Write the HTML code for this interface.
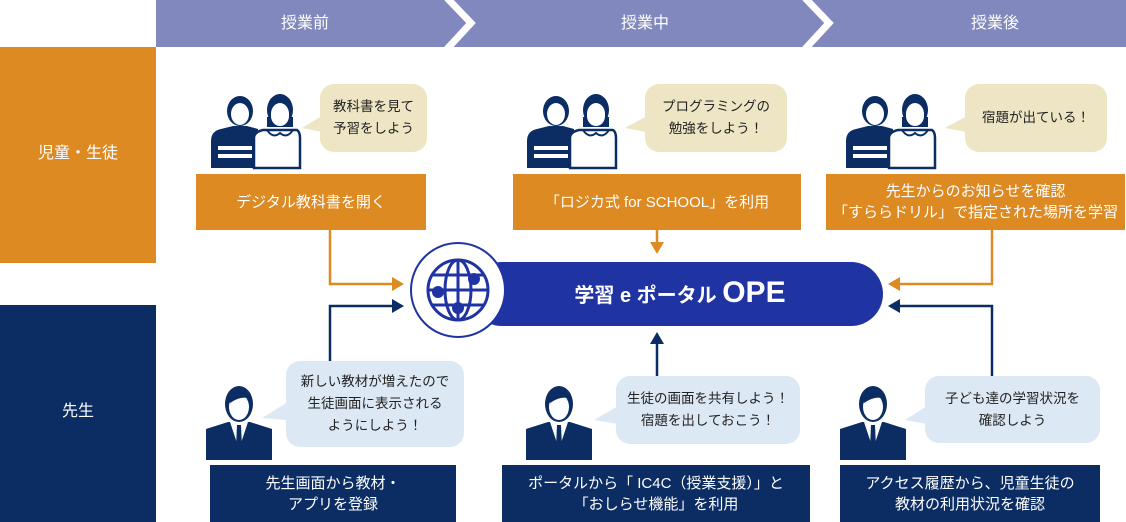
<!DOCTYPE html>
<html><head><meta charset="utf-8"><style>
*{margin:0;padding:0;box-sizing:border-box}
body{width:1126px;height:522px;overflow:hidden;background:#fff;font-family:"Liberation Sans","Noto Sans CJK JP",sans-serif;position:relative}
.a{position:absolute;display:flex;align-items:center;justify-content:center;text-align:center;line-height:21px}
.o{background:#de8a23;color:#fff;font-size:15px}
.n{background:#0b2d63;color:#fff;font-size:15px}
.bb{background:#ede5c4;color:#222;font-size:13.5px;border-radius:14px;line-height:22px}
.bl{background:#dde8f5;color:#222;font-size:13.5px;border-radius:14px;line-height:22px}
.h{color:#fff;font-size:16px}
</style></head><body>
<svg width="1126" height="522" style="position:absolute;left:0;top:0">
<defs>
<g id="st">
<path d="M0 75 V48 Q0 38 10 36 L22 33 L36 33 L47 36 V75Z" fill="#0b2d63"/>
<rect x="7" y="53" width="34" height="4" fill="#fff"/>
<rect x="7" y="61" width="34" height="4" fill="#fff"/>
<ellipse cx="29" cy="18" rx="13" ry="15" fill="#0b2d63"/>
<ellipse cx="29" cy="21" rx="9" ry="11" fill="#fff"/>
<path d="M20 14 Q29 4 38 14 L36 10 Q29 8 22 12Z" fill="#0b2d63"/>
<ellipse cx="69" cy="17" rx="13" ry="16" fill="#0b2d63"/>
<ellipse cx="69" cy="21" rx="9" ry="11" fill="#fff"/>
<rect x="56" y="24" width="26" height="10" fill="#0b2d63"/>
<ellipse cx="69" cy="23" rx="9" ry="10" fill="#fff"/>
<path d="M43 75 V45 Q43 39 52 37 L86 37 Q89 39 89 45 V75Z" fill="#fff" stroke="#0b2d63" stroke-width="2.5"/>
<path d="M56 37 Q62 46 69 40 Q76 46 82 37" fill="none" stroke="#0b2d63" stroke-width="2"/>
</g>
<g id="tc">
<path d="M0 75 V44 L22 37 L44 37 L66 44 V75Z" fill="#0b2d63"/>
<path d="M24 37 L33 64 L42 37Z" fill="#fff"/>
<path d="M31 40 L35 40 L36 62 L33 66 L30 62Z" fill="#0b2d63"/>
<ellipse cx="33" cy="19" rx="14" ry="18" fill="#0b2d63"/>
<ellipse cx="33" cy="22" rx="10" ry="13" fill="#fff"/>
<path d="M22 14 Q33 2 44 14 Q36 10 24 18Z" fill="#0b2d63"/>
</g>
</defs>
<rect x="156" y="0" width="970" height="47" fill="#8088bd"/>
<polyline points="447,-2 471,23 447,49" fill="none" stroke="#fff" stroke-width="7"/>
<polyline points="805,-2 829,23 805,49" fill="none" stroke="#fff" stroke-width="7"/>
<rect x="0" y="47" width="156" height="216" fill="#de8a23"/>
<rect x="0" y="305" width="156" height="217" fill="#0b2d63"/>
<!-- bubble tails -->
<path d="M302 128 L322 116 L322 132Z" fill="#ede5c4"/>
<path d="M625 128 L647 116 L647 132Z" fill="#ede5c4"/>
<path d="M945 128 L967 116 L967 132Z" fill="#ede5c4"/>
<path d="M262 418 L288 402 L288 420Z" fill="#dde8f5"/>
<path d="M594 420 L618 406 L618 424Z" fill="#dde8f5"/>
<path d="M905 420 L927 406 L927 424Z" fill="#dde8f5"/>
<use href="#st" x="211" y="93"/>
<use href="#st" x="527" y="93"/>
<use href="#st" x="846" y="93"/>
<use href="#tc" x="206" y="385"/>
<use href="#tc" x="526" y="385"/>
<use href="#tc" x="840" y="385"/>
<!-- arrows -->
<g fill="none" stroke="#de8a23" stroke-width="2.5">
<polyline points="330,230 330,284 394,284"/>
<line x1="657" y1="230" x2="657" y2="244"/>
<polyline points="992,230 992,284 898,284"/>
</g>
<g fill="#de8a23"><path d="M404 284 L392 277 L392 291Z"/><path d="M657 254 L650 242 L664 242Z"/><path d="M888 284 L900 277 L900 291Z"/></g>
<g fill="none" stroke="#0b2d63" stroke-width="2.5">
<polyline points="330,361 330,306 394,306"/>
<line x1="657" y1="376" x2="657" y2="343"/>
<polyline points="992,376 992,306 898,306"/>
</g>
<g fill="#0b2d63"><path d="M404 306 L392 299 L392 313Z"/><path d="M657 332 L650 344 L664 344Z"/><path d="M888 306 L900 299 L900 313Z"/></g>
<!-- portal -->
<rect x="470" y="262" width="413" height="64" rx="32" fill="#2033a3"/>
<circle cx="458" cy="290" r="47" fill="#fff" stroke="#2033a3" stroke-width="2"/>
<g fill="none" stroke="#2033a3" stroke-width="3">
<circle cx="458" cy="290" r="30"/>
<ellipse cx="458" cy="290" rx="13" ry="30"/>
<line x1="458" y1="260" x2="458" y2="320"/>
<line x1="428" y1="290" x2="488" y2="290"/>
<line x1="432" y1="275" x2="484" y2="275"/>
<line x1="432" y1="305" x2="484" y2="305"/>
</g>
<g fill="#2033a3"><circle cx="438" cy="292" r="6"/><circle cx="474" cy="279" r="6"/><circle cx="458" cy="308" r="6"/></g>
<text x="680" y="302" fill="#fff" font-size="20" font-weight="bold" text-anchor="middle" font-family="Liberation Sans,Noto Sans CJK JP,sans-serif">学習 e ポータル <tspan font-size="30">OPE</tspan></text>
</svg>
<div class="a h" style="left:230px;top:0;width:150px;height:47px">授業前</div>
<div class="a h" style="left:570px;top:0;width:150px;height:47px">授業中</div>
<div class="a h" style="left:920px;top:0;width:150px;height:47px">授業後</div>
<div class="a h" style="left:0;top:130;width:156px;height:47px;top:130px">児童・生徒</div>
<div class="a h" style="left:0;top:388px;width:156px;height:47px">先生</div>
<div class="a o" style="left:196px;top:174px;width:230px;height:56px">デジタル教科書を開く</div>
<div class="a o" style="left:513px;top:174px;width:288px;height:56px">「ロジカ式 for SCHOOL」を利用</div>
<div class="a o" style="left:826px;top:174px;width:299px;height:56px">先生からのお知らせを確認<br>「すららドリル」で指定された場所を学習</div>
<div class="a bb" style="left:320px;top:84px;width:107px;height:68px">教科書を見て<br>予習をしよう</div>
<div class="a bb" style="left:645px;top:84px;width:142px;height:68px">プログラミングの<br>勉強をしよう！</div>
<div class="a bb" style="left:965px;top:84px;width:142px;height:68px">宿題が出ている！</div>
<div class="a bl" style="left:286px;top:361px;width:178px;height:86px">新しい教材が増えたので<br>生徒画面に表示される<br>ようにしよう！</div>
<div class="a bl" style="left:616px;top:376px;width:184px;height:68px">生徒の画面を共有しよう！<br>宿題を出しておこう！</div>
<div class="a bl" style="left:925px;top:376px;width:175px;height:67px">子ども達の学習状況を<br>確認しよう</div>
<div class="a n" style="left:210px;top:465px;width:246px;height:57px">先生画面から教材・<br>アプリを登録</div>
<div class="a n" style="left:502px;top:465px;width:308px;height:57px">ポータルから「 IC4C（授業支援）」と<br>「おしらせ機能」を利用</div>
<div class="a n" style="left:840px;top:465px;width:260px;height:57px">アクセス履歴から、児童生徒の<br>教材の利用状況を確認</div>
</body></html>
